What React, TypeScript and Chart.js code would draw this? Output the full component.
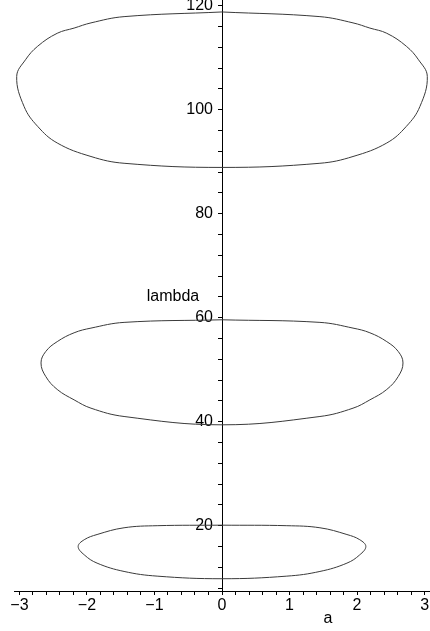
import React, { useEffect, useRef } from "react";
import { Chart, registerables } from "chart.js";

Chart.register(...registerables);

// Lower oval (a, lambda), traced around the loop
const lowA = [0, 0.96, 1.45, 1.85, 2.04, 2.13, 2.04, 1.85, 1.45, 0.96, 0, -0.96, -1.45, -1.85, -2.04, -2.13, -2.04, -1.85, -1.45, -0.96, 0];
const lowLambda = [20.1, 20.0, 19.6, 18.3, 17.3, 16.0, 14.4, 12.8, 11.2, 10.3, 9.8, 10.3, 11.2, 12.8, 14.4, 16.0, 17.3, 18.3, 19.6, 20.0, 20.1];

// Middle oval
const midA = [0, 1.45, 1.94, 2.19, 2.44, 2.61, 2.68, 2.61, 2.44, 2.19, 1.94, 1.45, 0, -1.45, -1.94, -2.19, -2.44, -2.61, -2.68, -2.61, -2.44, -2.19, -1.94, -1.45, 0];
const midLambda = [59.6, 59.1, 58.0, 57.1, 55.4, 53.5, 51.3, 48.7, 46.2, 44.2, 42.6, 41.0, 39.4, 41.0, 42.6, 44.2, 46.2, 48.7, 51.3, 53.5, 55.4, 57.1, 58.0, 59.1, 59.6];

// Upper oval
const topA = [0, 1.45, 1.94, 2.19, 2.44, 2.73, 2.91, 3.04, 2.93, 2.73, 2.44, 1.94, 1.45, 0, -1.45, -1.94, -2.44, -2.73, -2.93, -3.04, -2.91, -2.73, -2.44, -2.19, -1.94, -1.45, 0];
const topLambda = [118.8, 117.9, 116.7, 115.7, 114.7, 112.2, 109.6, 106.4, 100.6, 96.8, 93.6, 91.0, 89.7, 88.9, 89.7, 91.0, 93.6, 96.8, 100.6, 106.4, 109.6, 112.2, 114.7, 115.7, 116.7, 117.9, 118.8];

const xLabelValues = [-3, -2, -1, 0, 1, 2, 3];
const yLabelValues = [20, 40, 60, 80, 100, 120];
const xTitle = "a";
const yTitle = "lambda";

const FONT = "'Liberation Sans', Arial, Helvetica, sans-serif";

function pts(xs: number[], ys: number[]) {
  return xs.map((x, i) => ({ x, y: ys[i] }));
}

export default function App() {
  const ref = useRef<HTMLCanvasElement | null>(null);
  useEffect(() => {
    if (!ref.current) return;
    const lineStyle = {
      showLine: true,
      pointRadius: 0,
      borderColor: "#3a3a3a",
      borderWidth: 1,
      tension: 0.4,
      fill: false,
    };
    const titles = {
      id: "titles",
      afterDraw(chart: any) {
        const ctx = chart.ctx;
        const xs = chart.scales.x;
        const ys = chart.scales.y;
        ctx.save();
        ctx.fillStyle = "#000";
        ctx.font = `16px ${FONT}`;
        ctx.textAlign = "center";
        ctx.textBaseline = "middle";
        ctx.fillText(xTitle, xs.getPixelForValue(1.57), chart.chartArea.bottom + 28);
        ctx.fillText(yTitle, xs.getPixelForValue(0) - 49, ys.getPixelForValue(64));
        ctx.restore();
      },
    };
    const chart = new Chart(ref.current, {
      type: "scatter",
      data: {
        datasets: [
          { data: pts(lowA, lowLambda), ...lineStyle },
          { data: pts(midA, midLambda), ...lineStyle },
          { data: pts(topA, topLambda), ...lineStyle },
        ],
      },
      options: {
        animation: false,
        responsive: false,
        devicePixelRatio: 1,
        layout: { padding: { left: 14, right: 0, top: 0, bottom: 0 } },
        plugins: { legend: { display: false }, tooltip: { enabled: false } },
        scales: {
          x: {
            type: "linear",
            position: "bottom",
            min: -3.08,
            max: 3.08,
            border: { display: true, color: "#000", width: 1 },
            grid: { drawOnChartArea: false, drawTicks: true, tickLength: 4, color: "#000" },
            ticks: {
              stepSize: 0.2,
              includeBounds: false,
              autoSkip: false,
              maxRotation: 0,
              padding: 1,
              color: "#000",
              font: { family: FONT, size: 16 },
              callback: (v: any) => {
                const n = Number(v);
                const r = Math.round(n);
                if (Math.abs(n - r) < 1e-6 && xLabelValues.includes(r)) {
                  return r < 0 ? "\u2212" + Math.abs(r) : String(r);
                }
                return "";
              },
            },
            afterFit: (s: any) => {
              s.height = 40;
              s.paddingLeft = 0;
              s.paddingRight = 0;
            },
          },
          y: {
            type: "linear",
            position: "center",
            min: 7.44,
            max: 121.1,
            border: { display: true, color: "#000", width: 1 },
            grid: { drawOnChartArea: false, drawTicks: true, tickLength: 4, color: "#000" },
            ticks: {
              stepSize: 4,
              includeBounds: false,
              autoSkip: false,
              padding: 5,
              color: "#000",
              font: { family: FONT, size: 16 },
              callback: (v: any) => {
                const n = Math.round(Number(v));
                return yLabelValues.includes(n) && Math.abs(Number(v) - n) < 1e-6 ? String(n) : "";
              },
            },
            afterFit: (s: any) => {
              s.paddingTop = 0;
              s.paddingBottom = 0;
            },
          },
        },
      },
      plugins: [titles],
    });
    return () => chart.destroy();
  }, []);
  return (
    <div style={{ position: "fixed", left: 0, top: 0, width: 430, height: 631, background: "#fff" }}>
      <canvas ref={ref} width={430} height={631} style={{ width: 430, height: 631, display: "block" }} />
    </div>
  );
}
